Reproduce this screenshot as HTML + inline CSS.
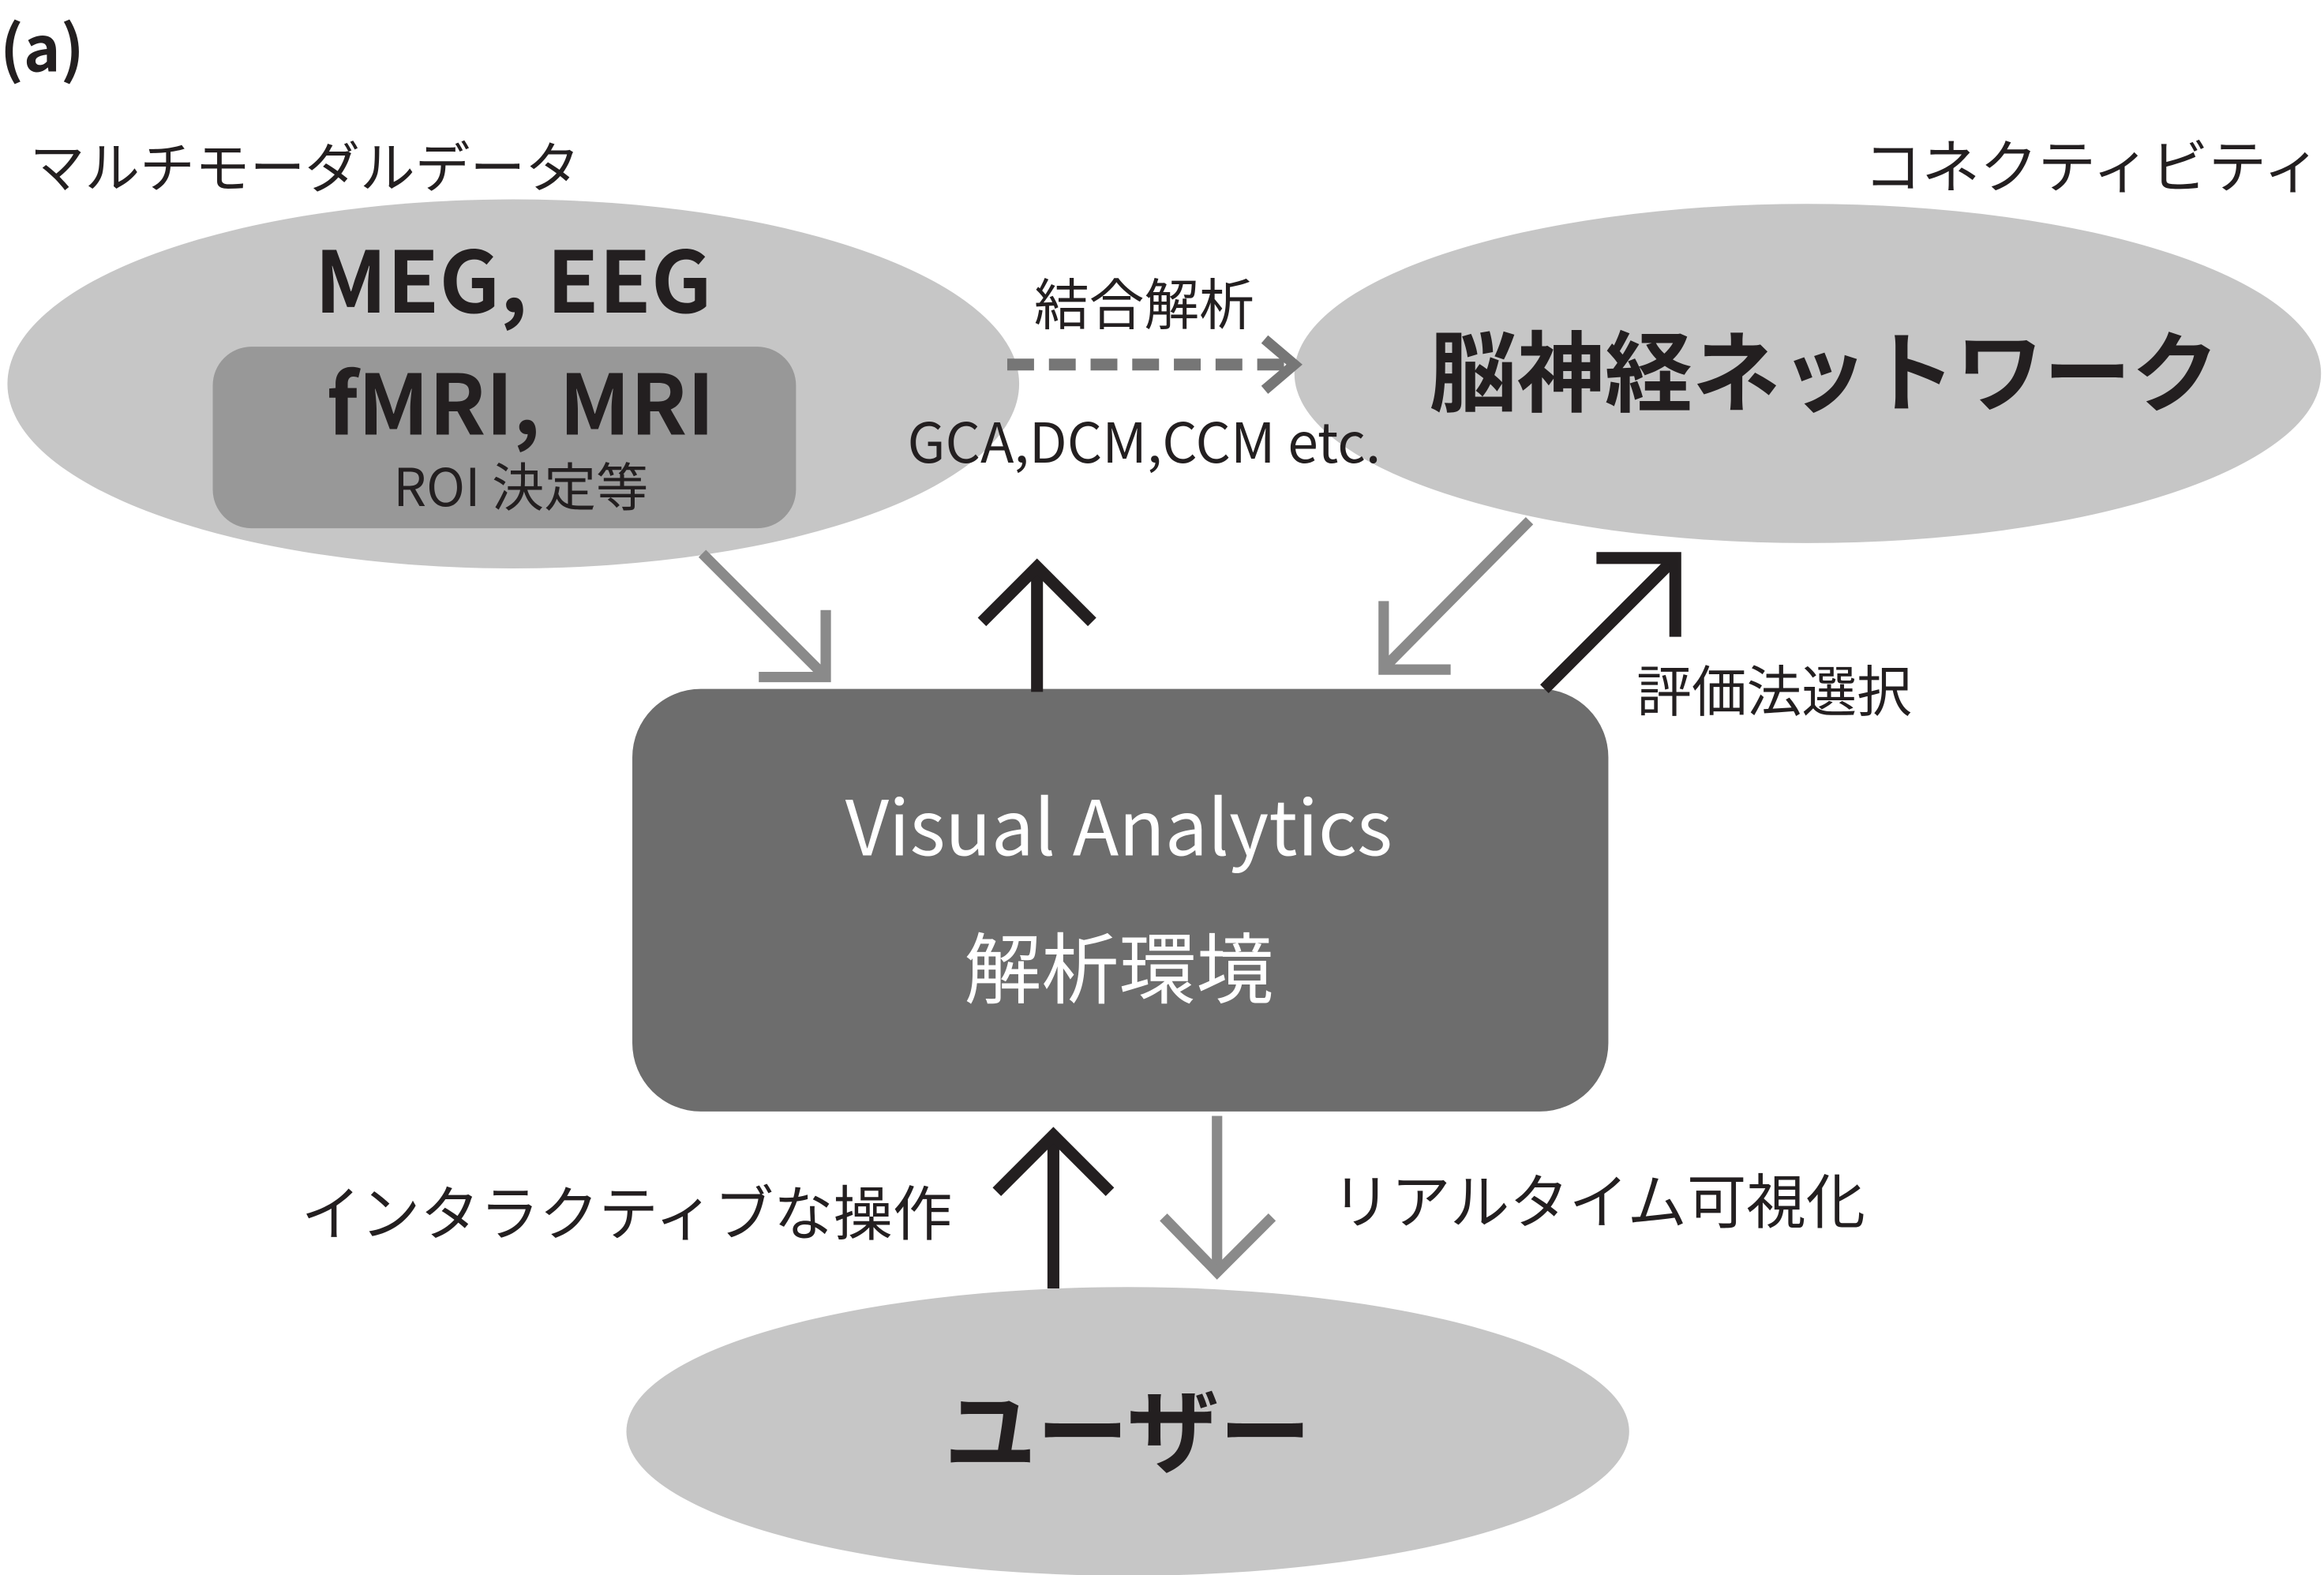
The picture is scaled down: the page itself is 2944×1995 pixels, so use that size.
<!DOCTYPE html>
<html><head><meta charset="utf-8"><style>
html,body{margin:0;padding:0;background:#fff;}
svg{display:block;}
text{font-family:"Liberation Sans","Noto Sans CJK JP",sans-serif;fill:#231f20;}
.cjk{font-family:"Noto Sans CJK JP","Liberation Sans",sans-serif;}
</style></head><body>
<svg width="2944" height="1995" viewBox="0 0 1562 1058.5" preserveAspectRatio="none" xmlns="http://www.w3.org/2000/svg">
<text x="0" y="48" font-size="42" font-weight="bold" class="cjk">(a)</text>
<text x="20" y="126" font-size="37" class="cjk">マルチモーダルデータ</text>
<text x="1560" y="126" font-size="39" class="cjk" text-anchor="end">コネクティビティ</text>

<ellipse cx="345" cy="258" rx="340" ry="124" fill="#c6c6c6"/>
<text x="345" y="210" font-size="57" font-weight="bold" text-anchor="middle" class="cjk">MEG, EEG</text>
<rect x="143" y="233" width="392" height="122" rx="26" fill="#989898"/>
<text x="350" y="292" font-size="56" font-weight="bold" text-anchor="middle" class="cjk">fMRI, MRI</text>
<text x="350" y="340" font-size="35" text-anchor="middle" class="cjk">ROI 決定等</text>

<ellipse cx="1215" cy="251" rx="345" ry="114" fill="#c6c6c6"/>
<text x="1226" y="272" font-size="59" font-weight="bold" text-anchor="middle" class="cjk">脳神経ネットワーク</text>

<text x="769" y="218" font-size="37" text-anchor="middle" class="cjk">結合解析</text>
<line x1="677" y1="245" x2="866" y2="245" stroke="#767676" stroke-width="8" stroke-dasharray="18,10"/>
<polyline points="850,228 870,245 850,262" fill="none" stroke="#767676" stroke-width="7"/>
<text x="769" y="311" font-size="37" text-anchor="middle" class="cjk">GCA,DCM,CCM etc.</text>

<rect x="425" y="463" width="656" height="284" rx="46" fill="#6d6d6d"/>
<text x="752" y="575" font-size="51" text-anchor="middle" style="fill:#fff" class="cjk">Visual Analytics</text>
<text x="752" y="670" font-size="52" text-anchor="middle" style="fill:#fff" class="cjk">解析環境</text>

<g stroke="#8a8a8a" stroke-width="7" fill="none">
<line x1="472" y1="372" x2="554" y2="454"/>
<polyline points="555,410 555,455 510,455"/>
</g>
<g stroke="#231f20" stroke-width="8" fill="none">
<line x1="697" y1="465" x2="697" y2="381"/>
<polyline points="660,418 697,381 734,418"/>
</g>
<g stroke="#8a8a8a" stroke-width="7" fill="none">
<line x1="1028" y1="350" x2="931" y2="448"/>
<polyline points="930,404 930,450 975,450"/>
</g>
<g stroke="#231f20" stroke-width="8" fill="none">
<line x1="1038" y1="463" x2="1124" y2="377"/>
<polyline points="1073,375 1126,375 1126,428"/>
</g>
<text x="1100" y="478" font-size="37" class="cjk">評価法選択</text>

<g stroke="#231f20" stroke-width="8" fill="none">
<line x1="708" y1="866" x2="708" y2="764"/>
<polyline points="670,801 708,763 746,801"/>
</g>
<g stroke="#8a8a8a" stroke-width="7" fill="none">
<line x1="818" y1="750" x2="818" y2="855"/>
<polyline points="782,818 818,855 855,818"/>
</g>
<text x="640" y="830" font-size="40" text-anchor="end" class="cjk">インタラクティブな操作</text>
<text x="895" y="822" font-size="40" class="cjk">リアルタイム可視化</text>

<ellipse cx="758" cy="962" rx="337" ry="97" fill="#c6c6c6"/>
<text x="758" y="985" font-size="62" font-weight="bold" text-anchor="middle" class="cjk">ユーザー</text>
</svg>
</body></html>
